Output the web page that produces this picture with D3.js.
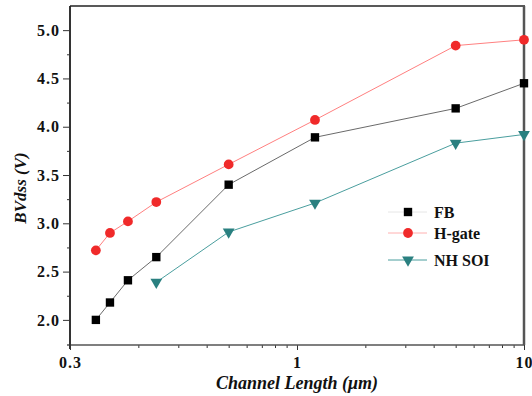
<!DOCTYPE html>
<html>
<head>
<meta charset="utf-8">
<script src="https://cdn.jsdelivr.net/npm/d3@7"></script>
</head>
<body style="margin:0; background:#fff">
<script>
// channel lengths (um)
let lengths = [0.13, 0.15, 0.18, 0.24, 0.5, 1.2, 5, 10]
let soiLengths = [0.24, 0.5, 1.2, 5, 10]
// BVdss (V)
let fbValues = [2.00, 2.18, 2.41, 2.65, 3.40, 3.89, 4.19, 4.45]
let hgateValues = [2.72, 2.90, 3.02, 3.22, 3.61, 4.07, 4.84, 4.90]
let soiValues = [2.39, 2.91, 3.21, 3.83, 3.92]

let seriesNames = ["FB", "H-gate", "NH SOI"]
let xTickValues = [0.1, 1, 10]
let xTickLabels = ["0.3", "1", "10"]
let yTickValues = [2.0, 2.5, 3.0, 3.5, 4.0, 4.5, 5.0]

let width = 532
let height = 396
let margin = { top: 6, right: 8, bottom: 51, left: 70 }
let serif = "'Liberation Serif'"

let svg = d3.select("body").append("svg")
    .attr("width", width)
    .attr("height", height)

let x = d3.scaleLog().domain([0.1, 10]).range([margin.left, width - margin.right])
let y = d3.scaleLinear().domain([1.74, 5.25]).range([height - margin.bottom, margin.top])

let series = [
    { name: seriesNames[0], xs: lengths, ys: fbValues, line: "#6a6a6a", fill: "#000", shape: d3.symbolSquare, size: 70, legendLine: "#e6e6e6" },
    { name: seriesNames[1], xs: lengths, ys: hgateValues, line: "#ff8080", fill: "#f02a2a", shape: d3.symbolCircle, size: 75, legendLine: "#ffb0b0" },
    { name: seriesNames[2], xs: soiLengths, ys: soiValues, line: "#4a9e9e", fill: "#2a8080", shape: d3.symbolTriangle, size: 60, legendLine: "#4a9e9e" }
]

// x axis minor ticks
let minor = []
for (let d = 0.1; d < 10; d *= 10) {
    for (let k = 2; k <= 9; k++) minor.push(d * k)
}

let styleText = g => g.selectAll("text")
    .style("font-family", serif).attr("font-weight", "bold").attr("font-size", 16)
    .attr("letter-spacing", 1).attr("fill", "#111")

svg.append("g")
    .attr("transform", "translate(0," + y.range()[0] + ")")
    .call(d3.axisBottom(x).tickValues(minor).tickSize(3).tickFormat(""))
    .call(g => g.select(".domain").remove())
    .call(g => g.selectAll("line").attr("stroke", "#333"))

svg.append("g")
    .attr("transform", "translate(0," + y.range()[0] + ")")
    .call(d3.axisBottom(x).tickValues(xTickValues).tickSize(5).tickPadding(7).tickFormat((d, i) => xTickLabels[i]))
    .call(g => g.select(".domain").remove())
    .call(g => g.selectAll("line").attr("stroke", "#333"))
    .call(styleText)

// y axis
let yMinor = d3.range(2.25, 5.25, 0.5)
svg.append("g")
    .attr("transform", "translate(" + margin.left + ",0)")
    .call(d3.axisLeft(y).tickValues(yMinor).tickSize(3).tickFormat(""))
    .call(g => g.select(".domain").remove())
    .call(g => g.selectAll("line").attr("stroke", "#333"))

svg.append("g")
    .attr("transform", "translate(" + margin.left + ",0)")
    .call(d3.axisLeft(y).tickValues(yTickValues).tickSize(7).tickPadding(3).tickFormat(d3.format(".1f")))
    .call(g => g.select(".domain").remove())
    .call(g => g.selectAll("line").attr("stroke", "#333"))
    .call(styleText)

// frame
let x0 = x.range()[0], x1 = x.range()[1], y0 = y.range()[0], y1 = y.range()[1]
svg.append("line").attr("x1", x0 - 3).attr("x2", x1).attr("y1", y0).attr("y2", y0)
    .attr("stroke", "#555").attr("stroke-width", 1.5)
svg.append("line").attr("x1", x0).attr("x2", x0).attr("y1", y0 + 4).attr("y2", y1)
    .attr("stroke", "#333").attr("stroke-width", 2)
svg.append("line").attr("x1", x0).attr("x2", x1 + 1).attr("y1", y1).attr("y2", y1)
    .attr("stroke", "#222").attr("stroke-width", 1.5)
svg.append("line").attr("x1", x1).attr("x2", x1).attr("y1", y1).attr("y2", y0)
    .attr("stroke", "#555").attr("stroke-width", 2.5)

// lines and markers
let line = d3.line().x(d => x(d[0])).y(d => y(d[1]))

series.forEach(s => {
    let pts = s.xs.map((v, i) => [v, s.ys[i]])
    svg.append("path")
        .datum(pts)
        .attr("d", line)
        .attr("fill", "none")
        .attr("stroke", s.line)
        .attr("stroke-width", 1)
    svg.selectAll(null)
        .data(pts)
        .enter().append("path")
        .attr("d", d3.symbol().type(s.shape).size(s.size))
        .attr("transform", d => "translate(" + x(d[0]) + "," + y(d[1]) + ")" + (s.shape === d3.symbolTriangle ? " rotate(180)" : ""))
        .attr("fill", s.fill)
})

// legend
let legend = svg.append("g").attr("transform", "translate(388,212)")
let legendY = [0, 21, 48]
series.forEach((s, i) => {
    let g = legend.append("g").attr("transform", "translate(0," + legendY[i] + ")")
    g.append("line").attr("x1", 0).attr("x2", 39).attr("y1", 0).attr("y2", 0)
        .attr("stroke", s.legendLine).attr("stroke-width", 1)
    g.append("path")
        .attr("d", d3.symbol().type(s.shape).size(s.size))
        .attr("transform", "translate(20,0)" + (s.shape === d3.symbolTriangle ? " rotate(180)" : ""))
        .attr("fill", s.fill)
    g.append("text")
        .attr("x", 46)
        .attr("y", 5.5)
        .style("font-family", serif)
        .attr("font-weight", "bold")
        .attr("font-size", 16)
        .attr("fill", "#111")
        .text(s.name)
})

// axis titles
svg.append("text")
    .attr("x", (x0 + x1) / 2)
    .attr("y", 389)
    .attr("text-anchor", "middle")
    .style("font-family", serif)
    .attr("font-weight", "bold")
    .attr("font-style", "italic")
    .attr("font-size", 18)
    .attr("fill", "#111")
    .text("Channel Length (μm)")

svg.append("text")
    .attr("transform", "translate(26,188) rotate(-90)")
    .attr("text-anchor", "middle")
    .style("font-family", serif)
    .attr("font-weight", "bold")
    .attr("font-style", "italic")
    .attr("font-size", 17)
    .attr("fill", "#111")
    .text("BVdss (V)")
</script>
</body>
</html>
